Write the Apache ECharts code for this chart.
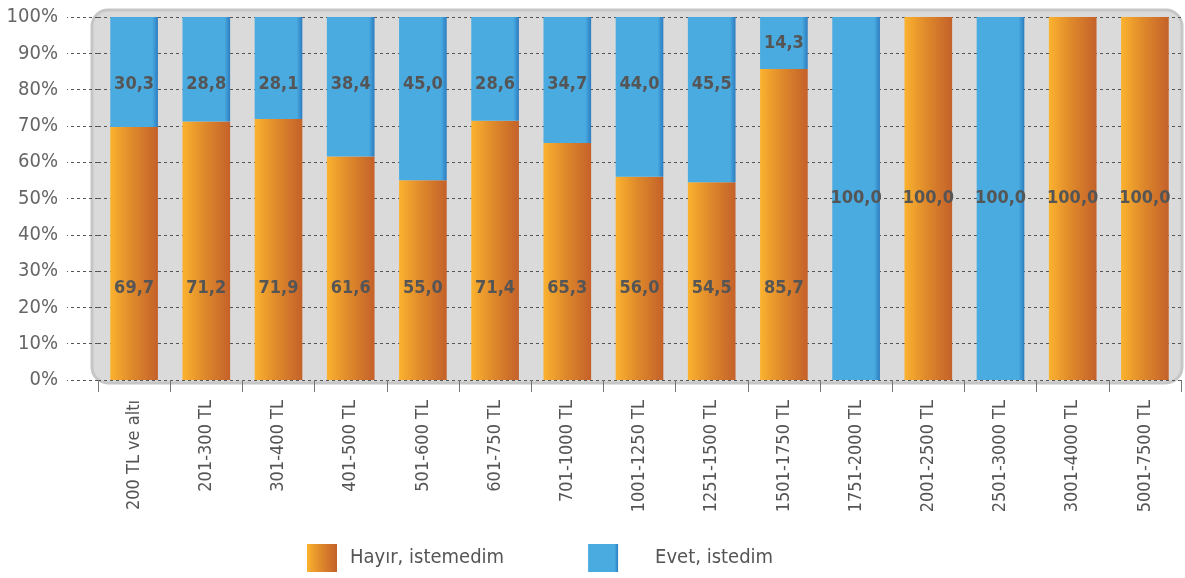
<!DOCTYPE html>
<html>
<head>
<meta charset="utf-8">
<script src="https://cdn.jsdelivr.net/npm/echarts@6/dist/echarts.min.js"></script>
<style>
  html, body { margin: 0; padding: 0; background: #fff; }
  #chart { width: 1185px; height: 578px; }
</style>
</head>
<body>
<div id="chart"></div>
<script>
  // gelir grupları
  const categories = ['200 TL ve altı', '201-300 TL', '301-400 TL', '401-500 TL', '501-600 TL',
    '601-750 TL', '701-1000 TL', '1001-1250 TL', '1251-1500 TL', '1501-1750 TL',
    '1751-2000 TL', '2001-2500 TL', '2501-3000 TL', '3001-4000 TL', '5001-7500 TL'];
  const hayir = [69.7, 71.2, 71.9, 61.6, 55.0, 71.4, 65.3, 56.0, 54.5, 85.7, 0, 100, 0, 100, 100];
  const evet = [30.3, 28.8, 28.1, 38.4, 45.0, 28.6, 34.7, 44.0, 45.5, 14.3, 100, 0, 100, 0, 0];
  const yTicks = [0, 10, 20, 30, 40, 50, 60, 70, 80, 90, 100];

  const font = "'DejaVu Sans Condensed', 'Liberation Sans Narrow', Roboto, sans-serif";

  const orange = new echarts.graphic.LinearGradient(0, 0, 1, 0, [
    { offset: 0, color: '#fbb22f' },
    { offset: 0.45, color: '#df8a2b' },
    { offset: 1, color: '#c4612a' }
  ]);
  const blue = new echarts.graphic.LinearGradient(0, 0, 1, 0, [
    { offset: 0, color: '#4aabe0' },
    { offset: 0.88, color: '#4aabe0' },
    { offset: 1, color: '#2c7cc0' }
  ]);

  const fmt = p => p.value ? p.value.toFixed(1).replace('.', ',') : '';
  const baseLabel = {
    show: true, color: '#555', fontFamily: font, fontWeight: 'bold', fontSize: 18, formatter: fmt
  };

  // etiket konumu: alt segment tabandan, üst segment tepeden sabit mesafede
  const hayirData = hayir.map(v => ({
    value: v,
    label: v >= 100 ? { position: 'inside' } : { position: 'insideBottom', distance: 83 }
  }));
  const evetData = evet.map(v => ({
    value: v,
    label: (v >= 100 || v < 20) ? { position: 'inside' } : { position: 'insideTop', distance: 58 }
  }));

  const chart = echarts.init(document.getElementById('chart'));
  chart.setOption({
    animation: false,
    graphic: [{
      type: 'rect', z: -10, silent: true,
      shape: { x: 92, y: 10, width: 1090, height: 373, r: 16 },
      style: { fill: '#dadada', stroke: '#c6c6c6', lineWidth: 3 }
    }],
    grid: { left: 98, right: 4, top: 17, bottom: 198 },
    legend: {
      left: 307, top: 544, padding: 0,
      icon: 'rect', itemWidth: 30, itemHeight: 28, itemGap: 84,
      textStyle: { color: '#555', fontSize: 20, fontFamily: font, padding: [0, 0, 0, 8] },
      data: [
        { name: 'Hayır, istemedim' },
        { name: 'Evet, istedim', textStyle: { padding: [0, 0, 0, 32] } }
      ]
    },
    xAxis: {
      type: 'category',
      data: categories,
      axisLine: { show: false },
      axisTick: { show: true, length: 12, lineStyle: { color: '#777' } },
      axisLabel: { rotate: 90, margin: 20, color: '#555', fontSize: 18, fontFamily: font }
    },
    yAxis: {
      type: 'value',
      min: yTicks[0], max: yTicks[yTicks.length - 1], interval: 10,
      axisLine: { show: false },
      axisTick: { show: true, length: 31, lineStyle: { color: '#555', type: [3, 3] } },
      axisLabel: { margin: 40, color: '#666', fontSize: 20, fontFamily: font, formatter: '{value}%' },
      splitLine: { show: true, lineStyle: { color: '#555', type: [3, 3] } }
    },
    series: [
      {
        name: 'Hayır, istemedim', type: 'bar', stack: 'a', barWidth: '66%',
        itemStyle: { color: orange },
        label: baseLabel,
        data: hayirData
      },
      {
        name: 'Evet, istedim', type: 'bar', stack: 'a', barWidth: '66%',
        itemStyle: { color: blue },
        label: baseLabel,
        data: evetData
      }
    ]
  });
</script>
</body>
</html>
